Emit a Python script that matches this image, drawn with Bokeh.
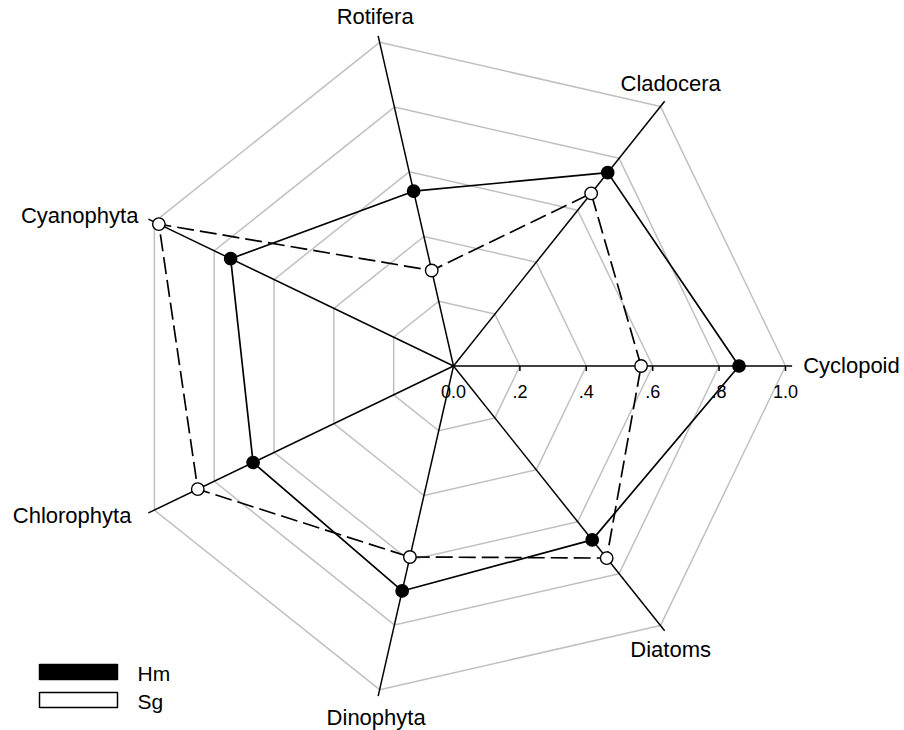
import numpy as np
from bokeh.plotting import figure
from bokeh.models import ColumnDataSource, Range1d
from bokeh.core.properties import value
from bokeh.embed import file_html
from bokeh.resources import INLINE

# Radar chart: relative abundance of plankton groups at two sites
categories = ["Cyclopoid", "Cladocera", "Rotifera", "Cyanophyta",
              "Chlorophyta", "Dinophyta", "Diatoms"]
hm_values = [0.86, 0.745, 0.54, 0.745, 0.67, 0.695, 0.67]
sg_values = [0.565, 0.665, 0.295, 0.985, 0.855, 0.59, 0.74]
series_names = ["Hm", "Sg"]
ring_levels = [0.2, 0.4, 0.6, 0.8, 1.0]
tick_values = [0.0, 0.2, 0.4, 0.6, 0.8, 1.0]
tick_labels = ["0.0", ".2", ".4", ".6", ".8", "1.0"]

# page geometry (pixels)
W, H = 904, 730
CX, CY = 453.0, 365.5      # centre of the web
R = 332.0                  # pixels for a radius of 1.0
SPOKE_END = 1.02
FONT = "Liberation Sans"


def px(x):
    return (x - CX) / R


def py(y):
    return (CY - y) / R


n = len(categories)
theta = 2 * np.pi * np.arange(n) / n
cos_t, sin_t = np.cos(theta), np.sin(theta)

p = figure(width=W, height=H, output_backend="svg", toolbar_location=None,
           x_range=Range1d(px(0), px(W)), y_range=Range1d(py(H), py(0)),
           x_axis_type=None, y_axis_type=None, min_border=0)
p.grid.visible = False
p.outline_line_color = None
p.background_fill_color = "white"

# grey web rings
ring_xs = [list(r * np.append(cos_t, cos_t[0])) for r in ring_levels]
ring_ys = [list(r * np.append(sin_t, sin_t[0])) for r in ring_levels]
p.multi_line(ring_xs, ring_ys, line_color="#c0c0c0", line_width=1.5)

# black spokes
spoke_xs = [[0, SPOKE_END * c] for c in cos_t]
spoke_ys = [[0, SPOKE_END * s] for s in sin_t]
p.multi_line(spoke_xs, spoke_ys, line_color="black", line_width=1.5)

# tick marks and labels along the first spoke
tick_len = 5 / R
p.segment(x0=tick_values[1:], y0=[0] * (len(tick_values) - 1),
          x1=tick_values[1:], y1=[-tick_len] * (len(tick_values) - 1),
          line_color="black", line_width=1.5)
p.text(x=tick_values, y=[0] * len(tick_values), text=tick_labels,
       text_font=value(FONT), text_font_size="18px", text_color="black",
       text_align="center", text_baseline="middle", y_offset=25)

# category labels at the spoke ends
lab_dx = [11, 6, -3, -10, -17, -2, 6]
lab_dy = [-1, -18, -19, -4, 3, 21, 19]
lab_align = ["left", "center", "center", "right", "right", "center", "center"]
lab_src = ColumnDataSource(dict(
    x=list(SPOKE_END * cos_t), y=list(SPOKE_END * sin_t), text=categories,
    dx=lab_dx, dy=lab_dy, align=lab_align))
p.text(x="x", y="y", text="text", source=lab_src, x_offset="dx", y_offset="dy",
       text_align="align", text_baseline="middle",
       text_font=value(FONT), text_font_size="22px", text_color="black")


def closed(vals):
    v = np.asarray(vals, dtype=float)
    xs = v * cos_t
    ys = v * sin_t
    return list(np.append(xs, xs[0])), list(np.append(ys, ys[0])), list(xs), list(ys)


hx, hy, hpx, hpy = closed(hm_values)
sx, sy, spx, spy = closed(sg_values)

p.line(sx, sy, line_color="black", line_width=1.7, line_dash="17 6")
p.line(hx, hy, line_color="black", line_width=1.7)
p.scatter(hpx, hpy, marker="circle", size=12.5, fill_color="black",
          line_color="black", line_width=1.2)
p.scatter(spx, spy, marker="circle", size=12.5, fill_color="white",
          line_color="black", line_width=1.4)

# legend swatches
sw_left, sw_right = 39, 117
sw_tops = [664, 692]
sw_h = 15
p.quad(left=[px(sw_left)] * 2, right=[px(sw_right)] * 2,
       top=[py(t) for t in sw_tops], bottom=[py(t + sw_h) for t in sw_tops],
       fill_color=["black", "white"], line_color="black", line_width=1.5)
p.text(x=[px(137)] * 2, y=[py(t + sw_h / 2) for t in sw_tops], text=series_names,
       text_font=value(FONT), text_font_size="21px", text_color="black",
       text_align="left", text_baseline="middle", y_offset=1)

open("out.html", "w").write(file_html(p, INLINE))
